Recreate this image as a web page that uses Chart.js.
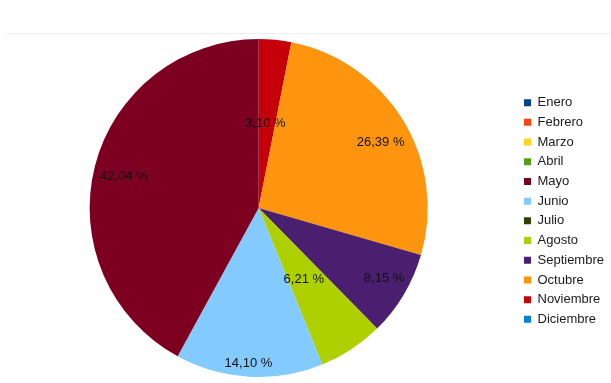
<!DOCTYPE html>
<html>
<head>
<meta charset="UTF-8">
<title>Porcentaje por mes</title>
<script src="https://cdn.jsdelivr.net/npm/chart.js"></script>
<style>
  html, body { margin: 0; padding: 0; background: #fff; }
  #wrap { position: relative; width: 611px; height: 383px; }
</style>
</head>
<body>
<div id="wrap"><canvas id="pie"></canvas></div>
<script>
// data, listed Diciembre -> Enero so slices run clockwise from the top like the original
const meses = ['Diciembre', 'Noviembre', 'Octubre', 'Septiembre', 'Agosto', 'Julio',
               'Junio', 'Mayo', 'Abril', 'Marzo', 'Febrero', 'Enero'];
const porcentajes = [0, 3.10, 26.39, 8.15, 6.21, 0, 14.10, 42.04, 0, 0, 0, 0];
const colores = ['#0084d1', '#c5000b', '#ff950e', '#4b1f6f', '#aecf00', '#314004',
                 '#83caff', '#7e0021', '#579d1c', '#ffd320', '#ff420e', '#004586'];

// label placement (fraction of radius, angle shift in degrees) per slice
const labelRadio = [0, 0.5, 0.82, 0.85, 0.5, 0, 0.92, 0.82, 0, 0, 0, 0];
const labelGiro  = [0, -1, 3, -1.7, 1, 0, 0.5, -1, 0, 0, 0, 0];

const FONT = '"Liberation Sans", Arial, sans-serif';

const etiquetas = {
  id: 'etiquetas',
  afterDatasetsDraw(chart) {
    const ctx = chart.ctx;
    const meta = chart.getDatasetMeta(0);
    ctx.save();
    ctx.font = '13px ' + FONT;
    ctx.fillStyle = '#111';
    ctx.textAlign = 'center';
    ctx.textBaseline = 'middle';
    meta.data.forEach((arc, i) => {
      const v = porcentajes[i];
      if (!v) return;
      const p = arc.getProps(['x', 'y', 'startAngle', 'endAngle', 'outerRadius'], true);
      const a = (p.startAngle + p.endAngle) / 2 + labelGiro[i] * Math.PI / 180;
      const r = p.outerRadius * labelRadio[i];
      ctx.fillText(v.toFixed(2).replace('.', ',') + ' %', p.x + Math.cos(a) * r, p.y + Math.sin(a) * r);
    });
    ctx.restore();
  }
};

const lineaTitulo = {
  id: 'lineaTitulo',
  beforeDraw(chart) {
    const ctx = chart.ctx;
    ctx.save();
    ctx.strokeStyle = '#eeeeee';
    ctx.lineWidth = 1;
    ctx.beginPath();
    ctx.moveTo(6, 33.5);
    ctx.lineTo(611, 33.5);
    ctx.stroke();
    ctx.restore();
  }
};

new Chart(document.getElementById('pie'), {
  type: 'pie',
  data: {
    labels: meses,
    datasets: [{
      data: porcentajes,
      backgroundColor: colores,
      borderWidth: 0
    }]
  },
  options: {
    responsive: true,
    maintainAspectRatio: false,
    animation: false,
    layout: { padding: { left: 0, right: 0, top: 39, bottom: 6 } },
    plugins: {
      legend: {
        position: 'right',
        reverse: true,
        maxWidth: 93.7,
        title: { display: true, text: ' ', padding: 0, font: { size: 5, lineHeight: 1.2 } },
        labels: {
          boxWidth: 7,
          boxHeight: 7,
          padding: 6.7,
          color: '#1a1a1a',
          font: { family: FONT, size: 13 }
        }
      },
      tooltip: { enabled: false }
    }
  },
  plugins: [etiquetas, lineaTitulo]
});
</script>
</body>
</html>
